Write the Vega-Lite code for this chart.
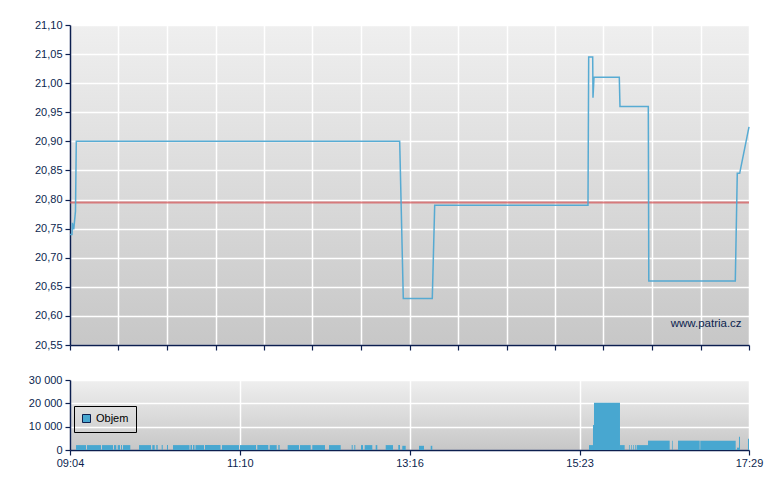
{
  "$schema": "https://vega.github.io/schema/vega-lite/v6.json",
  "padding": {"left": 28, "top": 19, "right": 20, "bottom": 10},
  "background": "white",
  "spacing": 23,
  "config": {
    "view": {"stroke": null},
    "axis": {
      "labelFont": "Liberation Sans", "labelFontSize": 11, "labelColor": "#0c1f4f",
      "domainColor": "#0c1f4f", "domainWidth": 1.5, "tickColor": "#0c1f4f", "tickSize": 5, "tickWidth": 1.2,
      "gridColor": "#ffffff", "gridWidth": 1.5, "gridOpacity": 1, "title": null, "labelPadding": 3,
      "labelOverlap": false, "labelFlush": false
    }
  },
  "datasets": {
    "price": [
      {"t": "2024-01-02T09:04:00", "p": 20.74},
      {"t": "2024-01-02T09:05:30", "p": 20.74},
      {"t": "2024-01-02T09:05:45", "p": 20.76},
      {"t": "2024-01-02T09:06:27", "p": 20.75},
      {"t": "2024-01-02T09:06:50", "p": 20.75},
      {"t": "2024-01-02T09:08:05", "p": 20.78},
      {"t": "2024-01-02T09:08:41", "p": 20.90},
      {"t": "2024-01-02T13:09:12", "p": 20.90},
      {"t": "2024-01-02T13:11:53", "p": 20.63},
      {"t": "2024-01-02T13:33:27", "p": 20.63},
      {"t": "2024-01-02T13:35:14", "p": 20.79},
      {"t": "2024-01-02T15:29:15", "p": 20.79},
      {"t": "2024-01-02T15:29:46", "p": 21.045},
      {"t": "2024-01-02T15:32:45", "p": 21.045},
      {"t": "2024-01-02T15:32:58", "p": 20.975},
      {"t": "2024-01-02T15:33:43", "p": 21.01},
      {"t": "2024-01-02T15:52:32", "p": 21.01},
      {"t": "2024-01-02T15:53:03", "p": 20.96},
      {"t": "2024-01-02T16:14:06", "p": 20.96},
      {"t": "2024-01-02T16:14:28", "p": 20.66},
      {"t": "2024-01-02T17:18:48", "p": 20.66},
      {"t": "2024-01-02T17:20:17", "p": 20.845},
      {"t": "2024-01-02T17:22:04", "p": 20.845},
      {"t": "2024-01-02T17:29:00", "p": 20.925}
    ],
    "ref": [{"p": 20.795}],
    "vol": [
      {"s": "2024-01-02T09:08:28", "e": "2024-01-02T09:15:54", "v": 2100},
      {"s": "2024-01-02T09:16:39", "e": "2024-01-02T09:27:03", "v": 2100},
      {"s": "2024-01-02T09:27:48", "e": "2024-01-02T09:35:59", "v": 2100},
      {"s": "2024-01-02T09:36:43", "e": "2024-01-02T09:38:26", "v": 2100},
      {"s": "2024-01-02T09:39:29", "e": "2024-01-02T09:41:11", "v": 2100},
      {"s": "2024-01-02T09:41:56", "e": "2024-01-02T09:42:40", "v": 2100},
      {"s": "2024-01-02T09:43:25", "e": "2024-01-02T09:48:51", "v": 2100},
      {"s": "2024-01-02T09:55:19", "e": "2024-01-02T10:04:14", "v": 2100},
      {"s": "2024-01-02T10:05:12", "e": "2024-01-02T10:07:00", "v": 2100},
      {"s": "2024-01-02T10:08:11", "e": "2024-01-02T10:09:13", "v": 2100},
      {"s": "2024-01-02T10:12:12", "e": "2024-01-02T10:12:57", "v": 2100},
      {"s": "2024-01-02T10:16:08", "e": "2024-01-02T10:16:53", "v": 2100},
      {"s": "2024-01-02T10:20:36", "e": "2024-01-02T10:32:52", "v": 2100},
      {"s": "2024-01-02T10:33:37", "e": "2024-01-02T10:34:44", "v": 2100},
      {"s": "2024-01-02T10:35:29", "e": "2024-01-02T10:36:36", "v": 2100},
      {"s": "2024-01-02T10:37:20", "e": "2024-01-02T10:43:40", "v": 2100},
      {"s": "2024-01-02T10:44:24", "e": "2024-01-02T10:55:56", "v": 2100},
      {"s": "2024-01-02T10:57:03", "e": "2024-01-02T11:09:41", "v": 2100},
      {"s": "2024-01-02T11:10:26", "e": "2024-01-02T11:22:20", "v": 2100},
      {"s": "2024-01-02T11:23:18", "e": "2024-01-02T11:31:29", "v": 2100},
      {"s": "2024-01-02T11:32:31", "e": "2024-01-02T11:37:44", "v": 2100},
      {"s": "2024-01-02T11:38:55", "e": "2024-01-02T11:39:57", "v": 2100},
      {"s": "2024-01-02T11:45:54", "e": "2024-01-02T11:54:19", "v": 2100},
      {"s": "2024-01-02T11:55:03", "e": "2024-01-02T12:03:01", "v": 2100},
      {"s": "2024-01-02T12:04:12", "e": "2024-01-02T12:13:39", "v": 2100},
      {"s": "2024-01-02T12:16:37", "e": "2024-01-02T12:25:20", "v": 2100},
      {"s": "2024-01-02T12:33:30", "e": "2024-01-02T12:34:15", "v": 2100},
      {"s": "2024-01-02T12:35:26", "e": "2024-01-02T12:36:11", "v": 2100},
      {"s": "2024-01-02T12:40:25", "e": "2024-01-02T12:41:55", "v": 2100},
      {"s": "2024-01-02T12:43:10", "e": "2024-01-02T12:48:50", "v": 2100},
      {"s": "2024-01-02T12:51:21", "e": "2024-01-02T12:52:33", "v": 2100},
      {"s": "2024-01-02T12:58:48", "e": "2024-01-02T13:04:13", "v": 2100},
      {"s": "2024-01-02T13:08:10", "e": "2024-01-02T13:09:26", "v": 2100},
      {"s": "2024-01-02T13:11:08", "e": "2024-01-02T13:13:40", "v": 1800},
      {"s": "2024-01-02T13:23:34", "e": "2024-01-02T13:27:17", "v": 1800},
      {"s": "2024-01-02T13:32:16", "e": "2024-01-02T13:33:27", "v": 1800},
      {"s": "2024-01-02T15:29:59", "e": "2024-01-02T15:32:58", "v": 2100},
      {"s": "2024-01-02T15:32:58", "e": "2024-01-02T15:33:43", "v": 10700},
      {"s": "2024-01-02T15:33:43", "e": "2024-01-02T15:53:03", "v": 20300},
      {"s": "2024-01-02T15:53:03", "e": "2024-01-02T15:56:32", "v": 2100},
      {"s": "2024-01-02T15:59:44", "e": "2024-01-02T16:00:16", "v": 2100},
      {"s": "2024-01-02T16:01:27", "e": "2024-01-02T16:01:58", "v": 2100},
      {"s": "2024-01-02T16:02:56", "e": "2024-01-02T16:03:27", "v": 2100},
      {"s": "2024-01-02T16:04:25", "e": "2024-01-02T16:04:57", "v": 2100},
      {"s": "2024-01-02T16:05:28", "e": "2024-01-02T16:13:52", "v": 2100},
      {"s": "2024-01-02T16:13:52", "e": "2024-01-02T16:30:00", "v": 4000},
      {"s": "2024-01-02T16:31:43", "e": "2024-01-02T16:32:14", "v": 4000},
      {"s": "2024-01-02T16:36:11", "e": "2024-01-02T16:52:19", "v": 4000},
      {"s": "2024-01-02T16:52:46", "e": "2024-01-02T17:19:06", "v": 4000},
      {"s": "2024-01-02T17:20:04", "e": "2024-01-02T17:21:33", "v": 1000},
      {"s": "2024-01-02T17:21:33", "e": "2024-01-02T17:22:18", "v": 5700},
      {"s": "2024-01-02T17:28:15", "e": "2024-01-02T17:29:00", "v": 4800}
    ]
  },
  "vconcat": [
    {
      "width": 679,
      "height": 320,
      "view": {"fill": {"gradient": "linear", "x1": 0, "y1": 0, "x2": 0, "y2": 1, "stops": [{"offset": 0, "color": "#efefef"}, {"offset": 1, "color": "#c7c7c7"}]}, "stroke": null},
      "layer": [
        {
          "data": {"name": "ref"},
          "mark": {"type": "rule", "color": "#d65a5c", "strokeWidth": 2, "opacity": 0.75},
          "encoding": {"y": {"field": "p", "type": "quantitative", "scale": {"domain": [20.55, 21.1], "nice": false, "zero": false}}}
        },
        {
          "data": {"name": "price"},
          "mark": {"type": "line", "color": "#4fa8d2", "strokeWidth": 1.5, "opacity": 0.95},
          "encoding": {
            "x": {"field": "t", "type": "temporal",
              "scale": {"domain": [{"year": 2024, "month": 1, "date": 2, "hours": 9, "minutes": 4}, {"year": 2024, "month": 1, "date": 2, "hours": 17, "minutes": 29}], "nice": false},
              "axis": {"labels": false, "tickCount": 40, "values": [
                {"year": 2024, "month": 1, "date": 2, "hours": 9, "minutes": 4, "seconds": 0},
                {"year": 2024, "month": 1, "date": 2, "hours": 9, "minutes": 40, "seconds": 4},
                {"year": 2024, "month": 1, "date": 2, "hours": 10, "minutes": 16, "seconds": 9},
                {"year": 2024, "month": 1, "date": 2, "hours": 10, "minutes": 52, "seconds": 13},
                {"year": 2024, "month": 1, "date": 2, "hours": 11, "minutes": 28, "seconds": 17},
                {"year": 2024, "month": 1, "date": 2, "hours": 12, "minutes": 4, "seconds": 21},
                {"year": 2024, "month": 1, "date": 2, "hours": 12, "minutes": 40, "seconds": 26},
                {"year": 2024, "month": 1, "date": 2, "hours": 13, "minutes": 16, "seconds": 30},
                {"year": 2024, "month": 1, "date": 2, "hours": 13, "minutes": 52, "seconds": 34},
                {"year": 2024, "month": 1, "date": 2, "hours": 14, "minutes": 28, "seconds": 39},
                {"year": 2024, "month": 1, "date": 2, "hours": 15, "minutes": 4, "seconds": 43},
                {"year": 2024, "month": 1, "date": 2, "hours": 15, "minutes": 40, "seconds": 47},
                {"year": 2024, "month": 1, "date": 2, "hours": 16, "minutes": 16, "seconds": 51},
                {"year": 2024, "month": 1, "date": 2, "hours": 16, "minutes": 52, "seconds": 56},
                {"year": 2024, "month": 1, "date": 2, "hours": 17, "minutes": 29, "seconds": 0}
              ]}},
            "y": {"field": "p", "type": "quantitative",
              "scale": {"domain": [20.55, 21.1], "nice": false, "zero": false},
              "axis": {"labelOverlap": false, "labelFlush": false, "tickCount": 40,
                "values": [20.55, 20.6, 20.65, 20.7, 20.75, 20.8, 20.85, 20.9, 20.95, 21.0, 21.05, 21.1],
                "labelExpr": "replace(format(datum.value, '.2f'), '.', ',')"}}
          }
        },
        {
          "data": {"values": [{"label": "www.patria.cz"}]},
          "mark": {"type": "text", "align": "right", "baseline": "alphabetic", "font": "Liberation Sans", "fontSize": 11.5, "color": "#0c1f4f"},
          "encoding": {
            "x": {"datum": {"year": 2024, "month": 1, "date": 2, "hours": 17, "minutes": 23, "seconds": 30}, "type": "temporal"},
            "y": {"datum": 20.581, "type": "quantitative"},
            "text": {"field": "label"}
          }
        }
      ]
    },
    {
      "width": 679,
      "height": 70,
      "view": {"fill": {"gradient": "linear", "x1": 0, "y1": 0, "x2": 0, "y2": 1, "stops": [{"offset": 0, "color": "#efefef"}, {"offset": 1, "color": "#c7c7c7"}]}, "stroke": null},
      "data": {"name": "vol"},
      "mark": {"type": "rect", "color": "#48a7d0"},
      "encoding": {
        "x": {"field": "s", "type": "temporal",
          "scale": {"domain": [{"year": 2024, "month": 1, "date": 2, "hours": 9, "minutes": 4}, {"year": 2024, "month": 1, "date": 2, "hours": 17, "minutes": 29}], "nice": false},
          "axis": {"format": "%H:%M", "labelPadding": 2, "labelOverlap": false, "tickCount": 40, "values": [
            {"year": 2024, "month": 1, "date": 2, "hours": 9, "minutes": 4, "seconds": 0},
            {"year": 2024, "month": 1, "date": 2, "hours": 11, "minutes": 10, "seconds": 15},
            {"year": 2024, "month": 1, "date": 2, "hours": 13, "minutes": 16, "seconds": 30},
            {"year": 2024, "month": 1, "date": 2, "hours": 15, "minutes": 23, "seconds": 0},
            {"year": 2024, "month": 1, "date": 2, "hours": 17, "minutes": 29, "seconds": 0}
          ]}},
        "x2": {"field": "e"},
        "y": {"field": "v", "type": "quantitative", "stack": null,
          "scale": {"domain": [0, 30000], "nice": false},
          "axis": {"labelOverlap": false, "tickCount": 40, "values": [0, 10000, 20000, 30000], "labelExpr": "replace(format(datum.value, ',d'), ',', ' ')"}},
        "y2": {"datum": 0},
        "color": {"datum": "Objem", "type": "nominal",
          "scale": {"range": ["#48a7d0"]},
          "legend": {"title": null, "orient": "none", "legendX": 4, "legendY": 381, "strokeColor": "#000000", "padding": 7,
            "symbolType": "square", "symbolSize": 64, "symbolStrokeColor": "#0c1f4f", "symbolStrokeWidth": 1, "symbolOpacity": 1,
            "labelFont": "Liberation Sans", "labelFontSize": 11, "labelColor": "#000000", "labelOffset": 4}}
      }
    }
  ]
}
